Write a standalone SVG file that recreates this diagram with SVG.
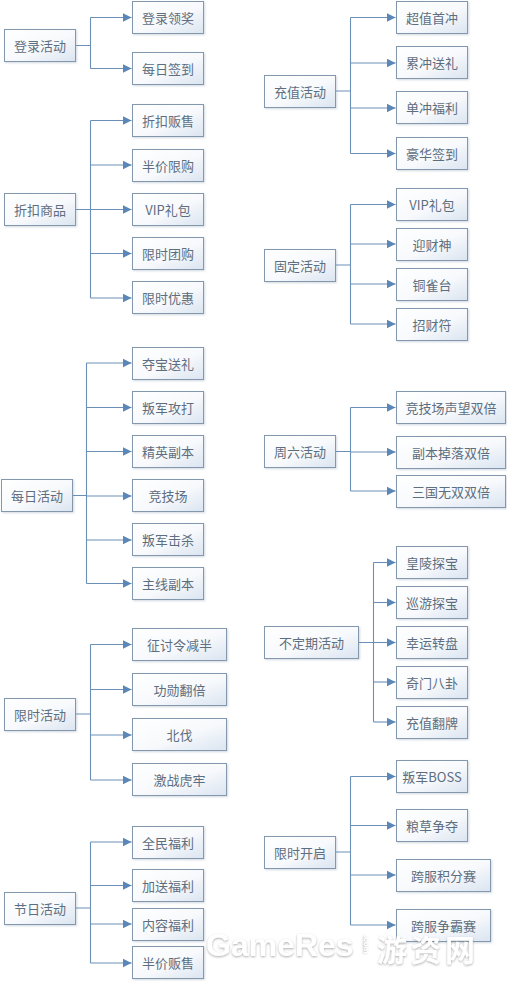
<svg xmlns="http://www.w3.org/2000/svg" width="507" height="981" viewBox="0 0 507 981">
<style>
.n rect{fill:url(#g);stroke:#8397ad;stroke-width:1;filter:url(#sh)}
.n text{font-family:"Microsoft YaHei","Noto Sans CJK SC","Noto Sans",sans-serif;font-size:13px;fill:#5d6e80;text-anchor:middle;dominant-baseline:central}
.c path{fill:none;stroke:#6b90b8;stroke-width:1.1}
.c path.a{marker-end:url(#ar)}
.wm{font-family:"Liberation Sans","Noto Sans CJK SC",sans-serif;font-weight:bold;fill:#ffffff;filter:url(#ws)}
</style>
<defs>
<linearGradient id="g" x1="0" y1="0" x2="1" y2="1">
<stop offset="0" stop-color="#ffffff"/>
<stop offset="0.55" stop-color="#f7f9fc"/>
<stop offset="1" stop-color="#dae4f0"/>
</linearGradient>
<filter id="sh" x="-10%" y="-10%" width="130%" height="140%">
<feDropShadow dx="1" dy="1" stdDeviation="0.8" flood-color="#7a8ea5" flood-opacity="0.35"/>
</filter>
<filter id="ws" x="-10%" y="-30%" width="120%" height="160%">
<feDropShadow dx="0" dy="1" stdDeviation="1.2" flood-color="#8a8a8a" flood-opacity="0.7"/>
</filter>
<marker id="ar" markerUnits="userSpaceOnUse" markerWidth="10" markerHeight="10" refX="9" refY="4.5" orient="auto">
<path d="M0,0 L9,4.5 L0,9 Z" fill="#5b87b8"/>
</marker>
</defs>
<rect width="507" height="981" fill="#ffffff"/>

<g class="c" id="connectors">
<!-- 登录活动 -->
<path d="M76,45.5 H90.5 M90.5,17.5 V68.5"/>
<path class="a" d="M90.5,17.5 H131.5"/>
<path class="a" d="M90.5,68.5 H131.5"/>
<!-- 折扣商品 -->
<path d="M76,209.5 H90.5 M90.5,120.5 V298"/>
<path class="a" d="M90.5,120.5 H131.5"/>
<path class="a" d="M90.5,165 H131.5"/>
<path class="a" d="M90.5,209.5 H131.5"/>
<path class="a" d="M90.5,253.5 H131.5"/>
<path class="a" d="M90.5,298 H131.5"/>
<!-- 每日活动 -->
<path d="M72,495.5 H86.5 M86.5,363 V583.5"/>
<path class="a" d="M86.5,363 H131.5"/>
<path class="a" d="M86.5,407.5 H131.5"/>
<path class="a" d="M86.5,451.5 H131.5"/>
<path class="a" d="M86.5,496 H131.5"/>
<path class="a" d="M86.5,540 H131.5"/>
<path class="a" d="M86.5,583.5 H131.5"/>
<!-- 限时活动 -->
<path d="M76,714 H90.5 M90.5,644.5 V780"/>
<path class="a" d="M90.5,644.5 H131.5"/>
<path class="a" d="M90.5,689.5 H131.5"/>
<path class="a" d="M90.5,735 H131.5"/>
<path class="a" d="M90.5,780 H131.5"/>
<!-- 节日活动 -->
<path d="M76,908 H90.5 M90.5,842 V963"/>
<path class="a" d="M90.5,842 H131.5"/>
<path class="a" d="M90.5,885.5 H131.5"/>
<path class="a" d="M90.5,924 H131.5"/>
<path class="a" d="M90.5,963 H131.5"/>
<!-- 充值活动 -->
<path d="M336,91 H350.5 M350.5,17.5 V153.5"/>
<path class="a" d="M350.5,17.5 H395.5"/>
<path class="a" d="M350.5,63 H395.5"/>
<path class="a" d="M350.5,108 H395.5"/>
<path class="a" d="M350.5,153.5 H395.5"/>
<!-- 固定活动 -->
<path d="M336,265 H350.5 M350.5,204.5 V324"/>
<path class="a" d="M350.5,204.5 H395.5"/>
<path class="a" d="M350.5,244 H395.5"/>
<path class="a" d="M350.5,284 H395.5"/>
<path class="a" d="M350.5,324 H395.5"/>
<!-- 周六活动 -->
<path d="M336,451.5 H350.5 M350.5,407.5 V491"/>
<path class="a" d="M350.5,407.5 H395.5"/>
<path class="a" d="M350.5,452 H395.5"/>
<path class="a" d="M350.5,491 H395.5"/>
<!-- 不定期活动 -->
<path d="M359,642.5 H373.5 M373.5,562.5 V722"/>
<path class="a" d="M373.5,562.5 H395.5"/>
<path class="a" d="M373.5,602.5 H395.5"/>
<path class="a" d="M373.5,642.5 H395.5"/>
<path class="a" d="M373.5,682 H395.5"/>
<path class="a" d="M373.5,722 H395.5"/>
<!-- 限时开启 -->
<path d="M336,852 H350.5 M350.5,776.5 V925"/>
<path class="a" d="M350.5,776.5 H395.5"/>
<path class="a" d="M350.5,825.5 H395.5"/>
<path class="a" d="M350.5,875 H395.5"/>
<path class="a" d="M350.5,925 H395.5"/>
</g>

<!-- left column -->
<g class="n" id="n-denglu"><rect x="4.5" y="29.5" width="71" height="32"/><text x="40" y="45.5">登录活动</text></g>
<g class="n" id="n-dljl"><rect x="132.5" y="1.5" width="71" height="32"/><text x="168" y="17.5">登录领奖</text></g>
<g class="n" id="n-mrqd"><rect x="132.5" y="52.5" width="71" height="32"/><text x="168" y="68.5">每日签到</text></g>

<g class="n" id="n-zksp"><rect x="4.5" y="193.5" width="71" height="32"/><text x="40" y="209.5">折扣商品</text></g>
<g class="n" id="n-zkfs"><rect x="132.5" y="104.5" width="71" height="32"/><text x="168" y="120.5">折扣贩售</text></g>
<g class="n" id="n-bjxg"><rect x="132.5" y="149.5" width="71" height="32"/><text x="168" y="165.5">半价限购</text></g>
<g class="n" id="n-viplb1"><rect x="132.5" y="193.5" width="71" height="32"/><text x="168" y="209.5">VIP礼包</text></g>
<g class="n" id="n-xstg"><rect x="132.5" y="237.5" width="71" height="32"/><text x="168" y="253.5">限时团购</text></g>
<g class="n" id="n-xsyh"><rect x="132.5" y="281.5" width="71" height="32"/><text x="168" y="297.5">限时优惠</text></g>

<g class="n" id="n-mrhd"><rect x="1.5" y="479.5" width="71" height="32"/><text x="37" y="495.5">每日活动</text></g>
<g class="n" id="n-dbsl"><rect x="132.5" y="347.5" width="71" height="32"/><text x="168" y="363.5">夺宝送礼</text></g>
<g class="n" id="n-pjgd"><rect x="132.5" y="391.5" width="71" height="32"/><text x="168" y="407.5">叛军攻打</text></g>
<g class="n" id="n-jyfb"><rect x="132.5" y="435.5" width="71" height="32"/><text x="168" y="451.5">精英副本</text></g>
<g class="n" id="n-jjc"><rect x="132.5" y="479.5" width="71" height="32"/><text x="168" y="495.5">竞技场</text></g>
<g class="n" id="n-pjjs"><rect x="132.5" y="523.5" width="71" height="32"/><text x="168" y="539.5">叛军击杀</text></g>
<g class="n" id="n-zxfb"><rect x="132.5" y="567.5" width="71" height="32"/><text x="168" y="583.5">主线副本</text></g>

<g class="n" id="n-xshd"><rect x="4.5" y="698.5" width="71" height="32"/><text x="40" y="714.5">限时活动</text></g>
<g class="n" id="n-ztljb"><rect x="132.5" y="628.5" width="94" height="32"/><text x="179.5" y="644.5">征讨令减半</text></g>
<g class="n" id="n-gxfb"><rect x="132.5" y="673.5" width="94" height="32"/><text x="179.5" y="689.5">功勋翻倍</text></g>
<g class="n" id="n-bf"><rect x="132.5" y="718.5" width="94" height="32"/><text x="179.5" y="734.5">北伐</text></g>
<g class="n" id="n-jzhl"><rect x="132.5" y="763.5" width="94" height="32"/><text x="179.5" y="779.5">激战虎牢</text></g>

<g class="n" id="n-jrhd"><rect x="4.5" y="892.5" width="71" height="32"/><text x="40" y="908.5">节日活动</text></g>
<g class="n" id="n-qmfl"><rect x="132.5" y="826.5" width="71" height="32"/><text x="168" y="842.5">全民福利</text></g>
<g class="n" id="n-jsfl"><rect x="132.5" y="869.5" width="71" height="32"/><text x="168" y="885.5">加送福利</text></g>
<g class="n" id="n-nrfl"><rect x="132.5" y="908.5" width="71" height="32"/><text x="168" y="924.5">内容福利</text></g>
<g class="n" id="n-bjfs"><rect x="132.5" y="946.5" width="71" height="32"/><text x="168" y="962.5">半价贩售</text></g>

<!-- right column -->
<g class="n" id="n-czhd"><rect x="264.5" y="75.5" width="71" height="32"/><text x="300" y="91.5">充值活动</text></g>
<g class="n" id="n-czsc"><rect x="396.5" y="1.5" width="71" height="32"/><text x="432" y="17.5">超值首冲</text></g>
<g class="n" id="n-lcsl"><rect x="396.5" y="46.5" width="71" height="32"/><text x="432" y="62.5">累冲送礼</text></g>
<g class="n" id="n-dcfl"><rect x="396.5" y="91.5" width="71" height="32"/><text x="432" y="107.5">单冲福利</text></g>
<g class="n" id="n-hhqd"><rect x="396.5" y="137.5" width="71" height="32"/><text x="432" y="153.5">豪华签到</text></g>

<g class="n" id="n-gdhd"><rect x="264.5" y="249.5" width="71" height="32"/><text x="300" y="265.5">固定活动</text></g>
<g class="n" id="n-viplb2"><rect x="396.5" y="188.5" width="71" height="32"/><text x="432" y="204.5">VIP礼包</text></g>
<g class="n" id="n-ycs"><rect x="396.5" y="228.5" width="71" height="32"/><text x="432" y="244.5">迎财神</text></g>
<g class="n" id="n-tqt"><rect x="396.5" y="268.5" width="71" height="32"/><text x="432" y="284.5">铜雀台</text></g>
<g class="n" id="n-zcf"><rect x="396.5" y="308.5" width="71" height="32"/><text x="432" y="324.5">招财符</text></g>

<g class="n" id="n-zlhd"><rect x="264.5" y="435.5" width="71" height="32"/><text x="300" y="451.5">周六活动</text></g>
<g class="n" id="n-jjcsw"><rect x="396.5" y="391.5" width="109" height="32"/><text x="451" y="407.5">竞技场声望双倍</text></g>
<g class="n" id="n-fbdl"><rect x="396.5" y="436.5" width="109" height="32"/><text x="451" y="452.5">副本掉落双倍</text></g>
<g class="n" id="n-sgws"><rect x="396.5" y="475.5" width="109" height="32"/><text x="451" y="491.5">三国无双双倍</text></g>

<g class="n" id="n-bdqhd"><rect x="264.5" y="626.5" width="94" height="32"/><text x="311.5" y="642.5">不定期活动</text></g>
<g class="n" id="n-hlts"><rect x="396.5" y="546.5" width="71" height="32"/><text x="432" y="562.5">皇陵探宝</text></g>
<g class="n" id="n-xyts"><rect x="396.5" y="586.5" width="71" height="32"/><text x="432" y="602.5">巡游探宝</text></g>
<g class="n" id="n-xyzp"><rect x="396.5" y="626.5" width="71" height="32"/><text x="432" y="642.5">幸运转盘</text></g>
<g class="n" id="n-qmbg"><rect x="396.5" y="666.5" width="71" height="32"/><text x="432" y="682.5">奇门八卦</text></g>
<g class="n" id="n-czfp"><rect x="396.5" y="706.5" width="71" height="32"/><text x="432" y="722.5">充值翻牌</text></g>

<g class="n" id="n-xskq"><rect x="264.5" y="836.5" width="71" height="32"/><text x="300" y="852.5">限时开启</text></g>
<g class="n" id="n-pjboss"><rect x="396.5" y="760.5" width="71" height="32"/><text x="432" y="776.5">叛军BOSS</text></g>
<g class="n" id="n-lczd"><rect x="396.5" y="809.5" width="71" height="32"/><text x="432" y="825.5">粮草争夺</text></g>
<g class="n" id="n-kfjfs"><rect x="396.5" y="859.5" width="94" height="32"/><text x="443.5" y="875.5">跨服积分赛</text></g>
<g class="n" id="n-kfzbs"><rect x="396.5" y="909.5" width="94" height="32"/><text x="443.5" y="925.5">跨服争霸赛</text></g>

<!-- watermark -->
<g id="watermark">
<text class="wm" x="206" y="956" font-size="32">GameRes</text>
<text class="wm" font-size="8" transform="translate(364,935) rotate(90)">.com</text>
<text class="wm" x="377" y="961" font-size="30" letter-spacing="4" style="font-family:'Noto Sans CJK SC',sans-serif">游资网</text>
</g>
</svg>
